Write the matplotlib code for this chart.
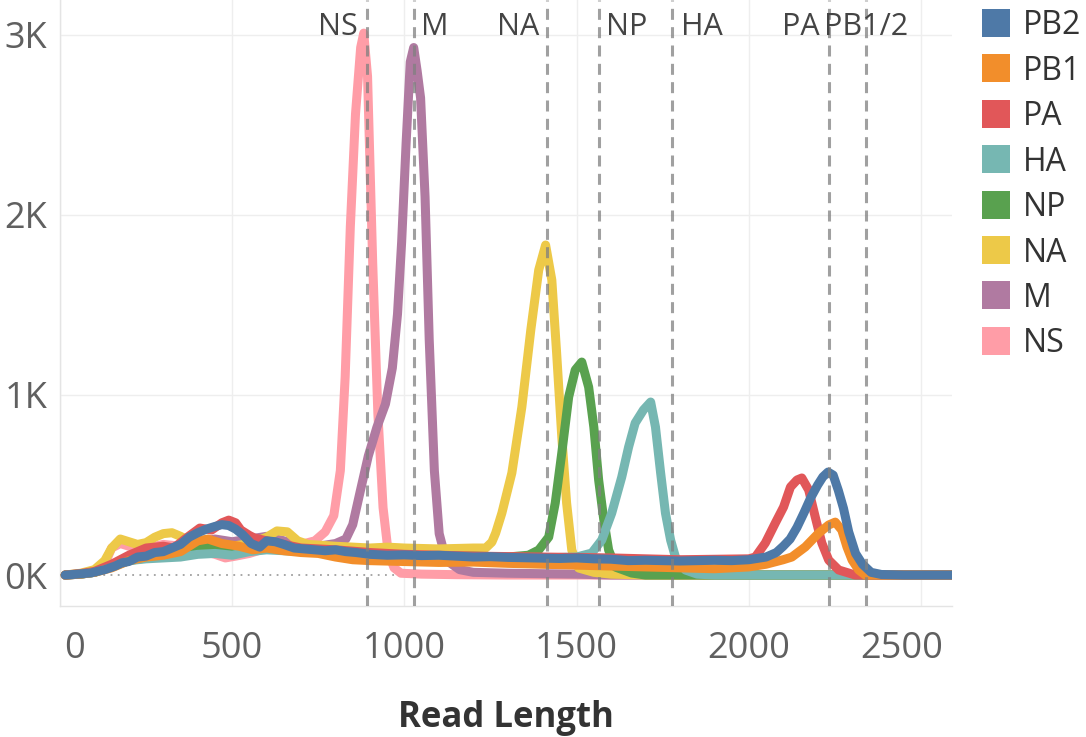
import matplotlib
matplotlib.use("Agg")
import matplotlib.pyplot as plt
from matplotlib.patches import Rectangle
from matplotlib.ticker import FuncFormatter
from matplotlib.transforms import ScaledTranslation

plt.rcParams['font.family'] = ['Open Sans', 'DejaVu Sans']

# ---- read-length histograms per influenza segment ----
segments = ["PB2", "PB1", "PA", "HA", "NP", "NA", "M", "NS"]
seg_colors = ["#4E79A7", "#F28E2B", "#E15759", "#76B7B2",
              "#59A14F", "#EDC948", "#B07AA1", "#FF9DA7"]

x_pb2 = [15, 50, 90, 130, 160, 180, 200, 225, 250, 275, 300, 325, 350, 375, 400,
         425, 450, 470, 490, 510, 530, 555, 580, 600, 625, 650, 680, 710, 740, 770,
         800, 830, 860, 900, 950, 1000, 1050, 1100, 1150, 1200, 1250, 1300, 1350,
         1400, 1450, 1500, 1550, 1600, 1650, 1700, 1750, 1800, 1850, 1900, 1950,
         2000, 2050, 2080, 2100, 2120, 2140, 2160, 2180, 2200, 2215, 2230, 2245,
         2260, 2275, 2290, 2310, 2330, 2355, 2385, 2450, 2520, 2590]
y_pb2 = [0, 5, 12, 30, 50, 68, 75, 100, 105, 125, 130, 150, 170, 210, 235,
         255, 270, 280, 275, 255, 225, 175, 155, 190, 185, 170, 150, 145, 140, 135,
         140, 130, 125, 115, 110, 112, 108, 110, 105, 100, 102, 98, 96,
         94, 92, 95, 90, 88, 80, 82, 80, 78, 80, 82, 80,
         85, 100, 125, 160, 200, 265, 345, 430, 500, 545, 572, 555,
         470, 370, 240, 120, 60, 15, 3, 0, 0, 0]

x_pb1 = [15, 60, 100, 150, 200, 250, 300, 350, 400, 430, 470, 520, 560, 600, 650,
         700, 750, 800, 850, 900, 1000, 1100, 1200, 1300, 1400, 1500, 1600, 1700,
         1800, 1900, 2000, 2050, 2100, 2125, 2164, 2203, 2232, 2251, 2270, 2285,
         2300, 2319, 2338, 2590]
y_pb1 = [0, 5, 15, 40, 80, 100, 110, 130, 190, 200, 175, 160, 140, 150, 135,
         125, 120, 100, 85, 80, 75, 70, 72, 65, 60, 55, 50, 45,
         40, 35, 45, 60, 85, 100, 156, 233, 278, 294, 250, 156,
         83, 28, 0, 0]

x_pa = [15, 60, 100, 150, 200, 250, 300, 330, 370, 406, 440, 470, 490, 510, 525,
        550, 564, 600, 650, 700, 800, 900, 1000, 1200, 1400, 1600, 1800, 2000,
        2019, 2048, 2077, 2101, 2121, 2140, 2154, 2174, 2193, 2212, 2232, 2261,
        2309, 2590]
y_pa = [0, 8, 20, 60, 110, 150, 160, 150, 210, 261, 250, 290, 305, 290, 250,
        220, 206, 190, 170, 150, 140, 125, 115, 105, 100, 95, 85, 90,
        100, 178, 289, 378, 489, 528, 539, 472, 322, 178, 83, 28,
        0, 0]

x_ha = [15, 60, 100, 150, 200, 250, 300, 350, 400, 450, 500, 550, 600, 700, 800,
        900, 1000, 1100, 1200, 1300, 1400, 1500, 1544, 1573, 1602, 1631, 1651,
        1670, 1694, 1715, 1729, 1744, 1758, 1773, 1787, 1816, 1850, 1900, 2590]
y_ha = [0, 5, 15, 50, 80, 90, 95, 100, 115, 120, 110, 130, 140, 130, 120,
        110, 105, 100, 100, 95, 95, 100, 122, 194, 344, 544, 711,
        844, 917, 961, 822, 567, 344, 194, 100, 28, 5, 0, 0]

x_np = [15, 60, 100, 150, 200, 250, 300, 350, 400, 450, 500, 550, 600, 700, 800,
        900, 1000, 1100, 1200, 1300, 1360, 1390, 1419, 1438, 1457, 1477, 1496,
        1515, 1535, 1550, 1564, 1579, 1593, 1613, 1660, 1700, 2590]
y_np = [0, 5, 15, 45, 80, 95, 110, 120, 150, 160, 150, 140, 150, 135, 125,
        115, 110, 105, 105, 100, 110, 139, 211, 400, 678, 989, 1139,
        1183, 1044, 822, 528, 306, 139, 44, 11, 0, 0]

x_na = [15, 60, 100, 130, 150, 175, 200, 225, 250, 275, 300, 325, 350, 375, 400,
        450, 500, 550, 600, 630, 660, 690, 720, 760, 800, 850, 900, 950, 1000,
        1100, 1200, 1236, 1254, 1265, 1283, 1312, 1341, 1367, 1390, 1410, 1428,
        1442, 1457, 1471, 1486, 1506, 1550, 1600, 1700, 2590]
y_na = [0, 10, 30, 80, 150, 200, 185, 170, 180, 210, 230, 235, 215, 190, 175,
        170, 160, 175, 210, 245, 240, 190, 170, 165, 160, 155, 150, 155, 150,
        145, 150, 150, 183, 233, 344, 567, 933, 1361, 1694, 1833, 1639,
        1233, 767, 400, 139, 39, 15, 5, 0, 0]

x_m = [15, 60, 100, 150, 200, 250, 300, 350, 400, 450, 500, 550, 600, 650, 700,
       750, 800, 830, 850, 870, 895, 920, 945, 965, 980, 992, 1005, 1017, 1027,
       1037, 1047, 1060, 1072, 1087, 1101, 1121, 1160, 1200, 1300, 1500, 1600, 2590]
y_m = [0, 5, 15, 50, 90, 110, 125, 140, 180, 200, 185, 200, 215, 190, 165,
       160, 175, 200, 280, 450, 660, 820, 950, 1150, 1450, 1850, 2400, 2850, 2930,
       2800, 2650, 2100, 1310, 580, 230, 83, 30, 15, 10, 5, 0, 0]

x_ns = [15, 60, 100, 130, 150, 175, 200, 250, 300, 350, 400, 450, 480, 510, 550,
        600, 650, 700, 740, 770, 795, 814, 828, 843, 858, 873, 882, 893, 908, 923,
        938, 953, 970, 990, 1050, 1150, 1300, 1600, 2000, 2590]
y_ns = [0, 5, 20, 60, 150, 175, 160, 150, 170, 160, 140, 115, 95, 105, 120,
        150, 160, 170, 190, 240, 330, 580, 1100, 1935, 2560, 2930, 3010, 2770, 1730, 895,
        375, 125, 40, 10, 5, 2, 0, 0, 0, 0]

series_x = [x_pb2, x_pb1, x_pa, x_ha, x_np, x_na, x_m, x_ns]
series_y = [y_pb2, y_pb1, y_pa, y_ha, y_np, y_na, y_m, y_ns]

# reference segment lengths
ref_names = ["NS", "M", "NA", "NP", "HA", "PA", "PB1/2"]
ref_lengths = [890, 1027, 1413, 1565, 1778, 2233, 2341]

x_ticks = [0, 500, 1000, 1500, 2000, 2500]
y_ticks = [0, 1000, 2000, 3000]

# ---- figure ----
W, H = 1086, 737
fig = plt.figure(figsize=(W / 100, H / 100), dpi=100)
ax_l, ax_r, ax_b = 60, 952, 606
ax = fig.add_axes([ax_l / W, 1 - ax_b / H, (ax_r - ax_l) / W, ax_b / H])
ax.set_xlim(0, 2590)
ax.set_ylim(-172, 3194)

for s in ("top", "right"):
    ax.spines[s].set_visible(False)
for s in ("left", "bottom"):
    ax.spines[s].set_color("#e4e4e4")
    ax.spines[s].set_linewidth(1)

ax.set_xticks(x_ticks)
ax.set_yticks(y_ticks)
ax.yaxis.set_major_formatter(FuncFormatter(lambda v, p: f"{v / 1000:.0f}K"))
ax.grid(True, color="#eeeeee", linewidth=1, zorder=0)
ax.set_axisbelow(True)
ax.yaxis.get_major_ticks()[0].gridline.set_visible(False)
ax.tick_params(length=0, labelsize=26, labelcolor="#606060")
ax.tick_params(axis="x", pad=18)
ax.tick_params(axis="y", pad=9)

# edge tick labels pulled inside the pane
xl = ax.get_xticklabels()
xl[0].set_transform(xl[0].get_transform() + ScaledTranslation(15 / 100, 0, fig.dpi_scale_trans))
xl[-1].set_transform(xl[-1].get_transform() + ScaledTranslation(-19 / 100, 0, fig.dpi_scale_trans))

# zero line
ax.axhline(0, color="#a0a0a0", linewidth=1.3, linestyle=(0, (1, 3)), zorder=1)

# segment curves, first legend entry drawn on top
for i in range(len(segments) - 1, -1, -1):
    ax.plot(series_x[i], series_y[i], color=seg_colors[i], linewidth=6.5,
            solid_joinstyle="round", solid_capstyle="round", zorder=3)

# reference lines with labels
label_style = {"NS": ("right", -6), "M": ("left", 5), "NA": ("right", -5),
               "NP": ("left", 5), "HA": ("left", 6), "PA": ("right", -7),
               "PB1/2": ("center", 0)}
for name, pos in zip(ref_names, ref_lengths):
    ax.axvline(pos, color="#808080", alpha=0.75, linewidth=2.2,
               linestyle=(0, (3.6, 2.4)), zorder=5)
    ha, dx = label_style[name]
    ax.annotate(name, xy=(pos, 3000), xytext=(dx, 0), textcoords="offset points",
                ha=ha, va="baseline", fontsize=22, color="#444444", zorder=6)

ax.set_xlabel("Read Length", fontsize=25, fontweight="bold", color="#333333")
ax.xaxis.set_label_coords(0.5, -0.155)
ax.xaxis.label.set_va("top")

# legend
leg_x0, leg_sq, leg_tx = 982, 28, 1023
for i, (name, col) in enumerate(zip(segments, seg_colors)):
    yc = 23 + 45.4 * i
    fig.patches.append(Rectangle(((leg_x0) / W, 1 - (yc + leg_sq / 2) / H),
                                 leg_sq / W, leg_sq / H, transform=fig.transFigure,
                                 facecolor=col, edgecolor="none"))
    fig.text(leg_tx / W, 1 - (yc + 11.5) / H, name, fontsize=23, color="#333333",
             ha="left", va="baseline")

fig.savefig("out.png", dpi=100)
